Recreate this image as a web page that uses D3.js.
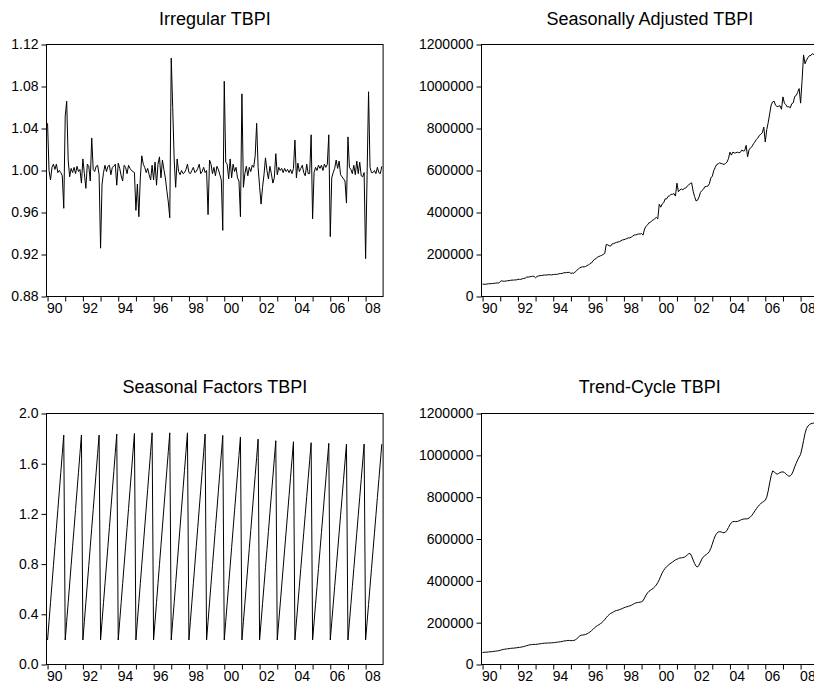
<!DOCTYPE html>
<html>
<head>
<meta charset="utf-8">
<script src="https://cdn.jsdelivr.net/npm/d3@7"></script>
<style>
body { margin: 0; background: #fff; overflow: hidden; }
svg { display: block; font-family: "Liberation Sans", Arial, sans-serif; }
.axis text { font-size: 14px; fill: #000; }
.axis line { stroke: #000; }
</style>
</head>
<body>
<svg id="chart" width="814" height="688"></svg>
<script>
// monthly, 1990M01 .. 2008M12 (228 obs)
const irregular = [
  1.045,1.000,0.991,1.003,1.006,1.001,1.006,0.998,1.000,0.998,0.995,0.964,
  1.052,1.066,1.010,0.994,1.002,0.998,1.003,0.997,1.004,0.999,1.001,0.988,
  1.011,0.997,0.983,1.006,1.004,0.990,1.031,1.001,0.999,1.004,1.005,0.996,
  0.926,0.987,0.998,1.005,0.999,1.004,1.005,0.996,1.003,1.004,1.006,0.986,
  1.007,1.002,0.995,0.990,1.005,1.003,0.997,1.005,1.002,1.000,0.999,0.998,
  0.962,0.987,0.956,0.993,1.014,1.006,1.003,0.998,1.002,0.996,0.991,1.005,
  0.991,1.008,0.986,1.006,1.013,0.993,1.010,1.001,0.993,0.981,0.970,0.955,
  1.107,1.060,1.010,0.984,1.011,0.999,0.996,1.000,0.997,0.998,1.001,1.006,
  0.998,0.997,1.000,1.003,0.998,0.999,1.002,1.006,0.997,0.999,1.003,0.998,
  1.000,0.958,1.010,1.006,0.997,1.003,0.995,1.004,1.001,0.996,0.991,0.943,
  1.085,1.008,1.006,0.992,1.011,0.993,1.006,0.999,1.003,0.993,0.990,0.956,
  1.073,0.984,0.997,1.004,0.995,1.003,0.999,1.005,1.003,1.014,1.045,1.003,
  0.985,0.968,0.984,0.996,1.012,1.000,0.992,1.004,0.997,0.988,0.993,1.016,
  0.996,1.003,1.000,1.002,0.998,1.002,0.999,1.001,0.998,1.001,0.997,1.002,
  1.029,0.993,1.007,0.999,1.002,1.005,0.998,0.995,1.006,0.997,0.997,1.034,
  0.954,0.998,1.003,1.000,1.005,1.002,1.005,1.000,1.006,1.003,1.006,1.034,
  0.937,0.993,0.998,1.002,1.010,1.002,1.009,0.996,0.994,0.992,0.990,0.969,
  1.032,1.003,1.001,0.997,1.005,0.996,1.009,0.997,1.008,0.995,0.994,0.998,
  0.916,0.995,1.075,1.003,0.998,0.998,1.000,0.997,1.003,0.998,0.997,1.004
];

// thousands
const seasonallyAdjusted = [
  59.6,58.0,58.5,59.2,60.4,61.1,61.4,61.9,63.0,63.9,64.7,63.6,
  71.5,74.6,72.7,72.6,74.1,74.9,76.2,76.8,78.3,77.9,79.1,79.0,
  81.9,81.8,81.6,84.5,86.3,87.1,92.8,92.1,93.9,95.4,96.5,95.6,
  88.9,95.7,97.8,99.5,99.9,101.4,102.5,101.6,103.3,103.4,103.6,102.5,
  104.7,105.2,105.5,105.9,108.5,109.3,109.7,112.6,113.2,114.0,114.9,114.8,
  109.7,112.5,109.9,117.2,124.7,130.8,136.4,139.7,141.3,141.4,142.7,147.7,
  149.6,157.2,159.7,169.0,177.3,179.7,187.9,190.2,193.6,196.2,200.8,205.3,
  248.0,245.9,241.4,240.1,250.7,251.7,255.0,258.0,259.2,261.5,265.3,269.6,
  270.5,273.2,276.0,278.8,279.4,282.7,287.6,292.7,293.1,295.7,297.9,297.4,
  300.0,292.2,321.2,334.0,341.0,351.1,353.2,361.4,365.4,370.5,376.6,369.7,
  439.4,425.4,440.6,446.4,465.1,464.7,476.8,479.5,486.5,486.6,490.1,478.0,
  539.7,498.9,507.5,512.0,508.4,514.5,516.5,525.6,531.6,537.4,541.3,501.5,
  475.8,455.0,458.5,473.1,495.9,505.0,510.9,523.1,524.4,525.6,536.2,563.9,
  572.7,598.8,615.0,628.3,631.7,636.3,633.4,631.6,628.7,633.6,640.1,656.3,
  687.4,673.3,687.8,683.3,684.4,687.4,684.6,686.6,697.2,692.9,693.9,719.7,
  664.9,698.6,708.1,714.0,727.6,736.5,748.7,755.0,767.6,772.3,779.7,806.5,
  735.5,794.4,828.3,869.7,912.0,926.9,930.3,910.3,904.5,905.7,908.8,891.5,
  950.5,920.8,912.9,902.3,904.5,898.4,918.2,922.2,952.6,957.2,972.1,990.0,
  920.6,1029.8,1150.3,1108.3,1125.7,1137.7,1147.0,1147.5,1156.5,1151.7,1151.5,1160.6
];

const seasonalFactors = [
  0.195,0.344,0.492,0.641,0.789,0.938,1.086,1.235,1.383,1.532,1.680,1.828,
  0.195,0.344,0.492,0.641,0.789,0.938,1.086,1.235,1.383,1.532,1.680,1.828,
  0.195,0.344,0.492,0.641,0.789,0.938,1.086,1.235,1.383,1.532,1.680,1.828,
  0.195,0.344,0.493,0.643,0.792,0.941,1.090,1.240,1.389,1.538,1.687,1.836,
  0.195,0.345,0.494,0.644,0.793,0.943,1.093,1.242,1.392,1.541,1.691,1.841,
  0.195,0.345,0.495,0.645,0.795,0.946,1.096,1.246,1.396,1.546,1.696,1.846,
  0.195,0.345,0.495,0.645,0.795,0.946,1.096,1.246,1.396,1.546,1.696,1.846,
  0.195,0.345,0.495,0.645,0.795,0.946,1.096,1.246,1.396,1.546,1.696,1.846,
  0.195,0.344,0.493,0.643,0.792,0.941,1.090,1.240,1.389,1.538,1.687,1.836,
  0.195,0.343,0.491,0.640,0.788,0.936,1.084,1.232,1.381,1.529,1.677,1.825,
  0.195,0.342,0.489,0.636,0.783,0.931,1.078,1.225,1.372,1.519,1.666,1.813,
  0.195,0.341,0.486,0.632,0.777,0.923,1.068,1.214,1.359,1.505,1.650,1.796,
  0.195,0.339,0.484,0.628,0.772,0.917,1.061,1.206,1.350,1.494,1.639,1.783,
  0.195,0.339,0.482,0.626,0.769,0.913,1.057,1.200,1.344,1.488,1.631,1.775,
  0.195,0.338,0.481,0.624,0.767,0.910,1.052,1.195,1.338,1.481,1.624,1.767,
  0.195,0.337,0.480,0.622,0.765,0.907,1.050,1.192,1.335,1.477,1.620,1.762,
  0.195,0.337,0.479,0.621,0.763,0.905,1.046,1.188,1.330,1.472,1.614,1.756,
  0.195,0.337,0.479,0.621,0.763,0.905,1.046,1.188,1.330,1.472,1.614,1.756,
  0.195,0.337,0.479,0.621,0.763,0.905,1.046,1.188,1.330,1.472,1.614,1.756
];

// thousands
const trendCycle = [
  57,58,59,59,60,61,61,62,63,64,65,66,
  68,70,72,73,74,75,76,77,78,78,79,80,
  81,82,83,84,86,88,90,92,94,95,96,96,
  96,97,98,99,100,101,102,102,103,103,103,104,
  104,105,106,107,108,109,110,112,113,114,115,115,
  114,114,115,118,123,130,136,140,141,142,144,147,
  151,156,162,168,175,181,186,190,195,200,207,215,
  224,232,239,244,248,252,256,258,260,262,265,268,
  271,274,276,278,280,283,287,291,294,296,297,298,
  300,305,318,332,342,350,355,360,365,372,380,392,
  405,422,438,450,460,468,474,480,485,490,495,500,
  503,507,509,510,511,513,517,523,530,530,518,500,
  483,470,466,475,490,505,515,521,526,532,540,555,
  575,597,615,627,633,635,634,631,630,633,642,655,
  668,678,683,684,683,684,686,690,693,695,696,696,
  697,700,706,714,724,735,745,755,763,770,775,780,
  785,800,830,868,903,925,922,914,910,913,918,920,
  921,918,912,905,900,902,910,925,945,962,978,992,
  1005,1035,1070,1105,1128,1140,1147,1151,1153,1154,1155,1156
];

const yearTicks = d3.range(1990, 2009);
const irregularTicks = [0.88, 0.92, 0.96, 1.00, 1.04, 1.08, 1.12];
const levelTicks = [0, 200, 400, 600, 800, 1000, 1200];
const factorTicks = [0.0, 0.4, 0.8, 1.2, 1.6, 2.0];

const monthTime = irregular.map((d, i) => 1990 + i / 12);

const svg = d3.select("#chart");
const plotW = 336.6;

function panel(p) {
    const g = svg.append("g")
        .attr("transform", `translate(${p.left},${p.top})`);

    const x = d3.scaleLinear()
        .domain([1989.94, 2008.99])
        .range([0, plotW]);

    const y = d3.scaleLinear()
        .domain(p.domain)
        .range([p.h, 0]);

    g.append("text")
        .attr("x", plotW / 2)
        .attr("y", p.titleY - p.top)
        .attr("text-anchor", "middle")
        .attr("font-size", 18)
        .attr("fill", "#000")
        .text(p.title);

    g.append("g")
        .attr("class", "axis")
        .call(d3.axisLeft(y).tickValues(p.ticks).tickFormat(p.format).tickSize(5).tickPadding(3))
        .call(a => a.select(".domain").remove());

    g.append("g")
        .attr("class", "axis")
        .attr("transform", `translate(0,${p.h})`)
        .call(d3.axisBottom(x).tickValues(yearTicks).tickSize(5).tickPadding(2)
            .tickFormat(d => d % 2 ? "" : String(d).slice(2)))
        .call(a => a.select(".domain").remove())
        .selectAll("text")
        .attr("text-anchor", "start")
        .attr("dx", -1);

    g.append("rect")
        .attr("width", plotW)
        .attr("height", p.h)
        .attr("fill", "none")
        .attr("stroke", "#000");

    const line = d3.line()
        .x((d, i) => x(monthTime[i]))
        .y(d => y(d));

    g.append("path")
        .datum(p.values)
        .attr("fill", "none")
        .attr("stroke", "#000")
        .attr("stroke-width", 1)
        .attr("d", line);
}

const fmtLevel = d => String(d * 1000);

panel({left: 46.5, top: 44.5, h: 252, titleY: 25, title: "Irregular TBPI",
    values: irregular, domain: [0.88, 1.12], ticks: irregularTicks, format: d3.format(".2f")});
panel({left: 481.5, top: 44.5, h: 252, titleY: 25, title: "Seasonally Adjusted TBPI",
    values: seasonallyAdjusted, domain: [0, 1200], ticks: levelTicks, format: fmtLevel});
panel({left: 46.5, top: 413.5, h: 251, titleY: 393, title: "Seasonal Factors TBPI",
    values: seasonalFactors, domain: [0, 2], ticks: factorTicks, format: d3.format(".1f")});
panel({left: 481.5, top: 413.5, h: 251, titleY: 393, title: "Trend-Cycle TBPI",
    values: trendCycle, domain: [0, 1200], ticks: levelTicks, format: fmtLevel});
</script>
</body>
</html>
